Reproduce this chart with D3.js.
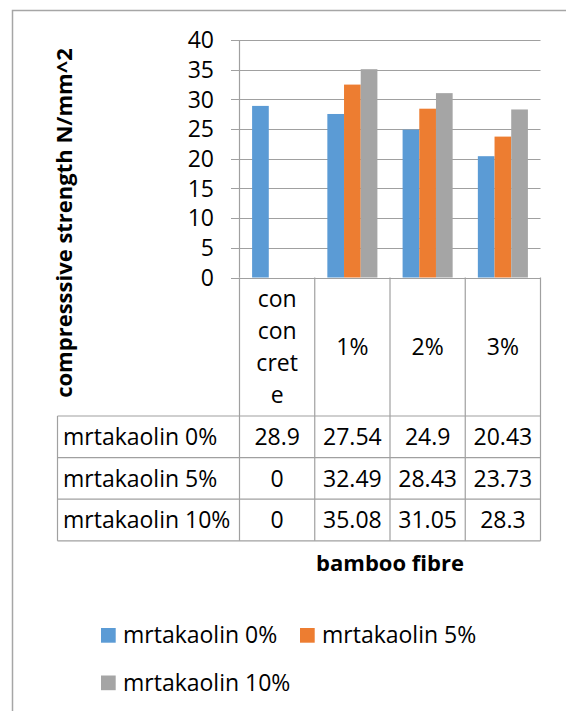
<!DOCTYPE html>
<html>
<head>
<meta charset="utf-8">
<script src="https://cdn.jsdelivr.net/npm/d3@7"></script>
<style>
  body { margin: 0; background: #fff; }
  text { font-family: "Open Sans", sans-serif; fill: #000; }
  .bold { font-weight: bold; }
</style>
</head>
<body>
<script>
// chart data
var categories = ["con concrete", "1%", "2%", "3%"];
var categoryLines = [["con", "con", "cret", "e"], ["1%"], ["2%"], ["3%"]];
var series = ["mrtakaolin 0%", "mrtakaolin 5%", "mrtakaolin 10%"];
var kaolin0 = [28.9, 27.54, 24.9, 20.43];
var kaolin5 = [0, 32.49, 28.43, 23.73];
var kaolin10 = [0, 35.08, 31.05, 28.3];
var yTicks = [0, 5, 10, 15, 20, 25, 30, 35, 40];
var colors = ["#5b9bd5", "#ed7d31", "#a5a5a5"];

var values = [kaolin0, kaolin5, kaolin10];

var w = 566;
var h = 711;
var grid = "#a0a0a0";

var svg = d3.select("body")
            .append("svg")
            .attr("width", w)
            .attr("height", h);

// outer frame (only top and left visible)
svg.append("path")
   .attr("d", "M12.5," + h + "V10.5H" + w)
   .attr("fill", "none")
   .attr("stroke", "#a6a6a6")
   .attr("stroke-width", 1.5);

var plotLeft = 239.5, plotRight = 540.5, plotTop = 40, plotBottom = 277.5;
var tableLeft = 57.5, headerBottom = 416, rowH = 41.6;

var xScale = d3.scaleBand()
               .domain(categories)
               .range([plotLeft, plotRight]);

var xInner = d3.scaleBand()
               .domain(series)
               .range([0, xScale.bandwidth()])
               .paddingOuter(0.755);

var yScale = d3.scaleLinear()
               .domain([0, 40])
               .range([plotBottom, plotTop]);

// gridlines + ticks
svg.selectAll(".gridline")
   .data(yTicks)
   .enter().append("line")
   .attr("x1", 231)
   .attr("x2", plotRight)
   .attr("y1", function(d) { return Math.round(yScale(d)) + 0.5; })
   .attr("y2", function(d) { return Math.round(yScale(d)) + 0.5; })
   .attr("stroke", grid)
   .attr("stroke-width", 1.2);

// y axis line
svg.append("line")
   .attr("x1", plotLeft).attr("x2", plotLeft)
   .attr("y1", plotTop).attr("y2", plotBottom)
   .attr("stroke", grid)
   .attr("stroke-width", 1.2);

// tick labels
svg.selectAll(".ylab")
   .data(yTicks)
   .enter().append("text")
   .attr("x", 214)
   .attr("y", function(d) { return yScale(d) + 8.3; })
   .attr("text-anchor", "end")
   .style("font-size", "23px")
   .text(function(d) { return d; });

// bars
series.forEach(function(s, si) {
  svg.selectAll(".bar" + si)
     .data(values[si])
     .enter().append("rect")
     .attr("x", function(d, i) { return xScale(categories[i]) + xInner(s); })
     .attr("y", function(d) { return yScale(d); })
     .attr("width", xInner.bandwidth())
     .attr("height", function(d) { return yScale(0) - yScale(d); })
     .attr("fill", colors[si]);
});

// data table
var tableBottom = headerBottom + rowH * series.length;
var tableLines = svg.append("g")
                    .attr("stroke", grid)
                    .attr("stroke-width", 1.2);

// column dividers (header + body)
categories.concat(["end"]).forEach(function(c, i) {
  var x = i < categories.length ? xScale(c) : plotRight;
  tableLines.append("line")
            .attr("x1", x).attr("x2", x)
            .attr("y1", plotBottom).attr("y2", tableBottom);
});
tableLines.append("line")
          .attr("x1", tableLeft).attr("x2", tableLeft)
          .attr("y1", headerBottom).attr("y2", tableBottom);

// row lines
d3.range(series.length + 1).forEach(function(r) {
  var y = headerBottom + r * rowH;
  tableLines.append("line")
            .attr("x1", tableLeft).attr("x2", plotRight)
            .attr("y1", y).attr("y2", y);
});

// header labels
categoryLines.forEach(function(lines, i) {
  var cx = xScale(categories[i]) + xScale.bandwidth() / 2;
  var mid = (plotBottom + headerBottom) / 2;
  var lh = 32;
  lines.forEach(function(l, j) {
    svg.append("text")
       .attr("x", cx)
       .attr("y", mid + 8.3 + (j - (lines.length - 1) / 2) * lh)
       .attr("text-anchor", "middle")
       .style("font-size", "23px")
       .text(l);
  });
});

// row labels + values
series.forEach(function(s, si) {
  var cy = headerBottom + si * rowH + rowH / 2 + 8.3;
  svg.append("text")
     .attr("x", 63)
     .attr("y", cy)
     .style("font-size", "23px")
     .text(s);
  svg.selectAll(".val" + si)
     .data(values[si])
     .enter().append("text")
     .attr("x", function(d, i) { return xScale(categories[i]) + xScale.bandwidth() / 2; })
     .attr("y", cy)
     .attr("text-anchor", "middle")
     .style("font-size", "23px")
     .text(function(d) { return d; });
});

// axis titles
svg.append("text")
   .attr("class", "bold")
   .attr("x", (plotLeft + plotRight) / 2)
   .attr("y", 571)
   .attr("text-anchor", "middle")
   .style("font-size", "22px")
   .text("bamboo fibre");

svg.append("text")
   .attr("class", "bold")
   .attr("transform", "translate(72, 223) rotate(-90)")
   .attr("text-anchor", "middle")
   .style("font-size", "22px")
   .text("compresssive strength N/mm^2");

// legend
var legendPos = [[101, 643], [300, 643], [101, 690.5]];
series.forEach(function(s, si) {
  var p = legendPos[si];
  svg.append("rect")
     .attr("x", p[0])
     .attr("y", p[1] - 15)
     .attr("width", 14.7)
     .attr("height", 14.7)
     .attr("fill", colors[si]);
  svg.append("text")
     .attr("x", p[0] + 22)
     .attr("y", p[1])
     .style("font-size", "23px")
     .text(s);
});
</script>
</body>
</html>
